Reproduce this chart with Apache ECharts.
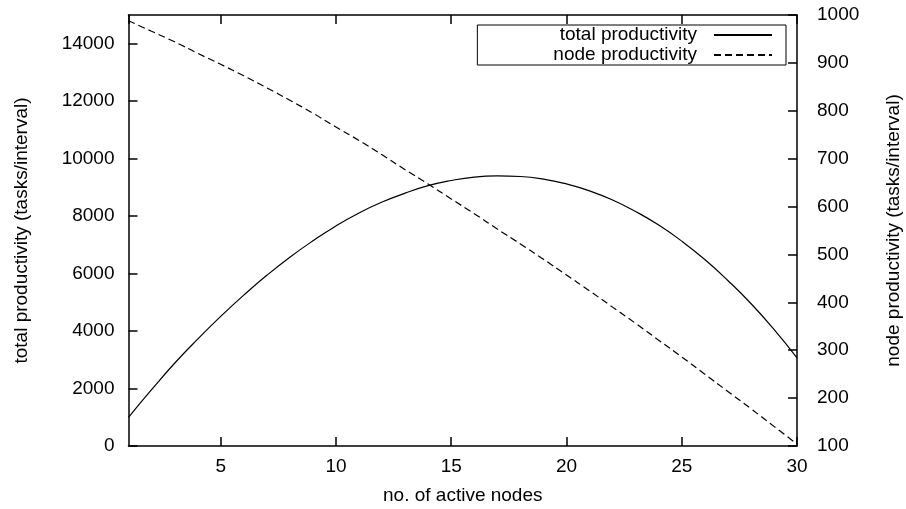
<!DOCTYPE html>
<html>
<head>
<meta charset="utf-8">
<script src="https://cdn.jsdelivr.net/npm/echarts@6/dist/echarts.min.js"></script>
<style>
html,body{margin:0;padding:0;background:#fff;}
#chart{width:906px;height:509px;}
</style>
</head>
<body>
<div id="chart"></div>
<script>
var nodes = [1,2,3,4,5,6,7,8,9,10,11,12,13,14,15,16,17,18,19,20,21,22,23,24,25,26,27,28,29,30];
var totalProductivity = [1000,1960,2880,3720,4510,5250,5940,6570,7140,7660,8110,8490,8800,9060,9240,9360,9400,9380,9290,9120,8880,8560,8160,7690,7130,6490,5760,4960,4060,3070];
var nodeProductivity = [988,966,944,920,897,873,848,822,795,766,738,708,677,647,616,585,553,522,490,457,424,390,356,321,286,250,214,178,141,104];
var seriesNames = ['total productivity', 'node productivity'];
var xName = 'no. of active nodes';
var yLeftName = 'total productivity (tasks/interval)';
var yRightName = 'node productivity (tasks/interval)';

function pairs(xs, ys) { return xs.map(function (x, i) { return [x, ys[i]]; }); }

var font = 'Liberation Sans';
var fs = 19;
var black = '#000';

var chart = echarts.init(document.getElementById('chart'), null, {renderer: 'canvas'});
chart.setOption({
  animation: false,
  backgroundColor: '#fff',
  grid: {left: 128.5, right: 109, top: 15, bottom: 63, containLabel: false, outerBoundsMode: 'none'},
  legend: {
    orient: 'vertical',
    right: 120,
    top: 25,
    align: 'right',
    itemWidth: 58,
    itemHeight: 14,
    itemGap: 0,
    padding: [0, 13, 0, 76],
    borderColor: black,
    borderWidth: 1,
    backgroundColor: '#fff',
    itemStyle: {opacity: 0},
    textStyle: {fontFamily: font, fontSize: fs, color: black, lineHeight: 20, padding: [0, 12, 0, 0]},
    data: seriesNames
  },
  xAxis: [{
    type: 'value',
    min: 1,
    max: 30,
    splitNumber: 6,
    name: xName,
    nameLocation: 'middle',
    nameGap: 40,
    nameTextStyle: {fontFamily: font, fontSize: fs, color: black},
    axisLine: {show: true, lineStyle: {color: black, width: 1.5}},
    axisTick: {show: true, inside: true, length: 9, lineStyle: {color: black, width: 1.5}},
    axisLabel: {fontFamily: font, fontSize: fs, color: black, margin: 11, showMinLabel: false,
      formatter: function (v) { return v === 1 ? '' : String(v); }},
    splitLine: {show: false}
  }, {
    type: 'value',
    position: 'top',
    min: 1,
    max: 30,
    splitNumber: 6,
    axisLine: {show: true, lineStyle: {color: black, width: 1.5}},
    axisTick: {show: true, inside: true, length: 9, lineStyle: {color: black, width: 1.5}},
    axisLabel: {show: false},
    splitLine: {show: false}
  }],
  yAxis: [{
    type: 'value',
    position: 'left',
    min: 0,
    max: 15000,
    interval: 2000,
    name: yLeftName,
    nameLocation: 'middle',
    nameGap: 97,
    nameTextStyle: {fontFamily: font, fontSize: fs, color: black},
    axisLine: {show: true, lineStyle: {color: black, width: 1.5}},
    axisTick: {show: true, inside: true, length: 9, lineStyle: {color: black, width: 1.5}},
    axisLabel: {fontFamily: font, fontSize: fs, color: black, margin: 14, showMaxLabel: false,
      formatter: function (v) { return v === 15000 ? '' : String(v); }},
    splitLine: {show: false}
  }, {
    type: 'value',
    position: 'right',
    min: 100,
    max: 1000,
    interval: 100,
    name: yRightName,
    nameLocation: 'middle',
    nameGap: 87,
    nameTextStyle: {fontFamily: font, fontSize: fs, color: black},
    axisLine: {show: true, lineStyle: {color: black, width: 1.5}},
    axisTick: {show: true, inside: true, length: 9, lineStyle: {color: black, width: 1.5}},
    axisLabel: {fontFamily: font, fontSize: fs, color: black, margin: 20,
      formatter: function (v) { return String(v); }},
    splitLine: {show: false}
  }],
  series: [{
    name: seriesNames[0],
    type: 'line',
    xAxisIndex: 0,
    yAxisIndex: 0,
    data: pairs(nodes, totalProductivity),
    smooth: true,
    symbol: 'none',
    color: black,
    lineStyle: {color: black, width: 1.2, type: 'solid'}
  }, {
    name: seriesNames[1],
    type: 'line',
    xAxisIndex: 0,
    yAxisIndex: 1,
    data: pairs(nodes, nodeProductivity),
    smooth: true,
    symbol: 'none',
    color: black,
    lineStyle: {color: black, width: 1.2, type: [7, 4]}
  }]
});
</script>
</body>
</html>
